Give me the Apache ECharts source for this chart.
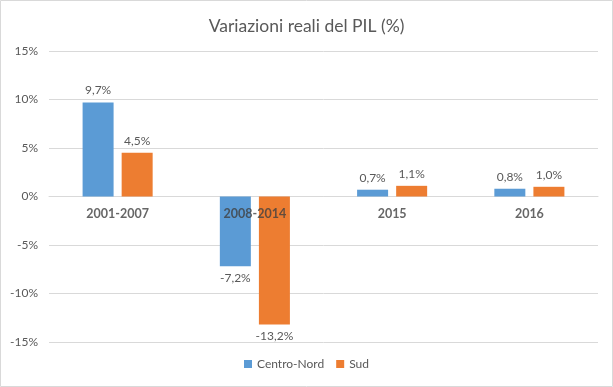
<!DOCTYPE html>
<html><head><meta charset="utf-8">
<script src="https://cdn.jsdelivr.net/npm/echarts@6/dist/echarts.min.js"></script>
<style>html,body{margin:0;padding:0;background:#fff}#c{width:613px;height:387px}</style>
</head><body><div id="c"></div>
<script>
var categories = ['2001-2007', '2008-2014', '2015', '2016'];
var centroNord = [9.7, -7.2, 0.7, 0.8];
var sud = [4.5, -13.2, 1.1, 1.0];
var yTicks = [-15, -10, -5, 0, 5, 10, 15];

var FONT = 'Lato, "Liberation Sans", sans-serif';
var TXT = '#595959';
function fmt(v){ return v.toFixed(1).replace('.', ',') + '%'; }
function items(arr){
  return arr.map(function(v){
    return {value: v, label: {position: v >= 0 ? 'top' : 'bottom'}};
  });
}
var catLabel = {show: true, position: 'bottom', distance: 10, fontFamily: FONT, fontSize: 12.5, fontWeight: 700, color: '#404040'};
var chart = echarts.init(document.getElementById('c'), null, {renderer: 'canvas'});
chart.setOption({
  animation: false,
  textStyle: {fontFamily: FONT},
  graphic: [{type: 'rect', shape: {x: 0.5, y: 0.5, width: 612, height: 386}, style: {fill: 'none', stroke: '#d9d9d9', lineWidth: 1}, silent: true}],
  title: {text: 'Variazioni reali del PIL (%)', left: 'center', top: 12,
    textStyle: {fontFamily: FONT, fontSize: 17.5, fontWeight: 'normal', color: TXT}},
  grid: {left: 49, right: 15, top: 51, bottom: 45},
  legend: {bottom: 12, left: 'center', itemWidth: 8, itemHeight: 8, itemGap: 12, icon: 'rect',
    textStyle: {fontFamily: FONT, fontSize: 12, color: TXT},
    data: ['Centro-Nord', 'Sud']},
  xAxis: {type: 'category', data: categories,
    axisLine: {onZero: true, lineStyle: {color: '#d9d9d9'}},
    axisTick: {show: false},
    axisLabel: {show: false}},
  yAxis: {type: 'value', min: yTicks[0], max: yTicks[yTicks.length-1], interval: 5,
    axisLine: {show: false}, axisTick: {show: false},
    splitLine: {lineStyle: {color: '#d9d9d9'}},
    axisLabel: {fontFamily: FONT, fontSize: 12, color: TXT, margin: 11, formatter: function(v){ return v + '%'; }}},
  series: [
    {name: 'Centro-Nord', type: 'bar', data: items(centroNord), barWidth: 31, barGap: '26%',
      itemStyle: {color: '#5B9BD5'},
      label: {show: true, fontFamily: FONT, fontSize: 12, color: TXT, distance: 6, formatter: function(p){ return fmt(p.value); }}},
    {name: 'Sud', type: 'bar', data: items(sud), barWidth: 31, barGap: '26%',
      itemStyle: {color: '#ED7D31'},
      label: {show: true, fontFamily: FONT, fontSize: 12, color: TXT, distance: 6, formatter: function(p){ return fmt(p.value); }}},
    {name: 'cat', type: 'scatter', data: categories.map(function(c){ return {value: [c, 0], label: catLabel}; }),
      symbolSize: 1, itemStyle: {color: 'rgba(0,0,0,0)'}, silent: true, z: 5,
      label: Object.assign({}, catLabel, {formatter: function(p){ return p.value[0]; }})}
  ]
});
</script></body></html>
